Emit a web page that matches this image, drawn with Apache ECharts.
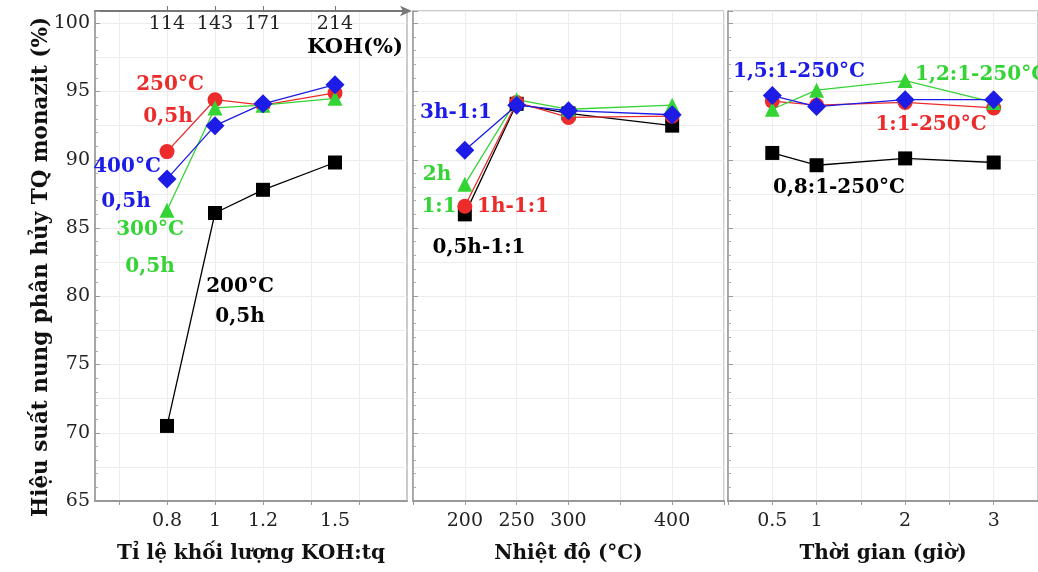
<!DOCTYPE html>
<html>
<head>
<meta charset="utf-8">
<script src="https://cdn.jsdelivr.net/npm/echarts@6/dist/echarts.min.js"></script>
<style>
  html, body { margin: 0; padding: 0; background: #fff; }
  #chart { width: 1038px; height: 572px; }
</style>
</head>
<body>
<div id="chart"></div>
<script>
// trục x và nhãn
var ratioX = [0.8, 1, 1.2, 1.5];
var kohLabels = ['114', '143', '171', '214'];
var tempX = [200, 250, 300, 400];
var timeX = [0.5, 1, 2, 3];
var yLabels = [65, 70, 75, 80, 85, 90, 95, 100];
var ratioGrid = [0.6, 0.8, 1, 1.2, 1.4, 1.6];

// tỉ lệ KOH:tq
var ratio200 = [70.5, 86.1, 87.8, 89.8];
var ratio250 = [90.6, 94.4, 94.0, 94.9];
var ratio300 = [86.3, 93.8, 94.0, 94.5];
var ratio400 = [88.6, 92.5, 94.1, 95.5];

// nhiệt độ
var temp05h = [86.0, 94.1, 93.4, 92.5];
var temp1h = [86.6, 94.2, 93.1, 93.2];
var temp2h = [88.2, 94.4, 93.7, 94.0];
var temp3h = [90.7, 94.0, 93.6, 93.3];

// thời gian
var time08 = [90.5, 89.6, 90.1, 89.8];
var time10 = [94.3, 94.0, 94.2, 93.8];
var time12 = [93.7, 95.1, 95.8, 94.2];
var time15 = [94.7, 93.9, 94.4, 94.4];

var FONT = 'DejaVu Serif';
var RED = '#ec2b2b', GREEN = '#35d435', BLUE = '#1c1ce6', BLACK = '#000';

function pts(xs, ys) {
    return xs.map(function (x, i) { return [x, ys[i]]; });
}

function line(name, xi, xs, ys, color, symbol, size) {
    return {
        name: name,
        type: 'line',
        xAxisIndex: xi,
        yAxisIndex: xi,
        data: pts(xs, ys),
        symbol: symbol,
        symbolSize: size,
        lineStyle: { color: color, width: 1.3 },
        itemStyle: { color: color },
        z: 3
    };
}

function bottomAxis(gi, min, max, labelVals, name, extra) {
    var ax = {
        type: 'value',
        gridIndex: gi,
        position: 'bottom',
        min: min,
        max: max,
        axisLine: { show: true, lineStyle: { color: '#999', width: 2 } },
        axisTick: { show: true, length: 4, lineStyle: { color: '#999' } },
        axisLabel: { customValues: labelVals, margin: 11, fontFamily: FONT, fontSize: 19, color: '#222' },
        splitLine: { show: true, lineStyle: { color: '#ececec', width: 1 } },
        name: name,
        nameLocation: 'middle',
        nameGap: 43,
        nameTextStyle: { fontFamily: FONT, fontWeight: 'bold', fontSize: 20, color: '#111' }
    };
    for (var k in extra) {
        if (k === 'axisTick') { ax.axisTick.customValues = extra[k]; }
        else { ax[k] = extra[k]; }
    }
    return ax;
}

function mainY(gi, withLabels) {
    return {
        type: 'value',
        gridIndex: gi,
        position: 'left',
        min: 65,
        max: 100.9,
        interval: 5,
        axisLine: { show: true, lineStyle: { color: '#999', width: 1.5 } },
        axisTick: { show: true, inside: true, length: 5, lineStyle: { color: '#999' } },
        minorTick: { show: true, splitNumber: 5, length: 3, lineStyle: { color: '#aaa' } },
        axisLabel: { show: withLabels, customValues: yLabels, margin: 5, fontFamily: FONT, fontSize: 19, color: '#222' },
        splitLine: { show: false }
    };
}

function gridY(gi) {
    return {
        type: 'value',
        gridIndex: gi,
        position: 'left',
        min: 65,
        max: 100.9,
        interval: 2.5,
        axisLine: { show: false },
        axisTick: { show: false },
        axisLabel: { show: false },
        splitLine: { show: true, lineStyle: { color: '#ececec', width: 1 } }
    };
}

function note(text, x, y, color, align, size) {
    return {
        type: 'text',
        x: x,
        y: y,
        z: 10,
        style: {
            text: text,
            fill: color,
            font: 'bold ' + (size || 20) + 'px "' + FONT + '"',
            textAlign: align || 'center',
            textVerticalAlign: 'middle'
        }
    };
}

var myChart = echarts.init(document.getElementById('chart'));

var option = {
    animation: false,
    backgroundColor: '#fff',
    grid: [
        { left: 95, top: 11, width: 312, height: 490, show: true, borderColor: '#999', borderWidth: 1 },
        { left: 413, top: 11, width: 311, height: 490, show: true, borderColor: '#999', borderWidth: 1 },
        { left: 728, top: 11, width: 315, height: 490, show: true, borderColor: '#999', borderWidth: 1 }
    ],
    xAxis: [
        bottomAxis(0, 0.5, 1.8, ratioX, 'Tỉ lệ khối lượng KOH:tq', { axisTick: ratioGrid }),
        bottomAxis(1, 150, 450, tempX, 'Nhiệt độ (°C)', { interval: 50 }),
        bottomAxis(2, 0, 3.5, timeX, 'Thời gian (giờ)', { interval: 0.5 }),
        {
            type: 'value',
            gridIndex: 0,
            position: 'top',
            min: 0.5,
            max: 1.8,
            axisLine: {
                show: true,
                symbol: ['none', 'arrow'],
                symbolSize: [8, 12],
                symbolOffset: [0, 5],
                lineStyle: { color: '#777', width: 2 }
            },
            axisTick: { show: true, customValues: ratioX, length: 5, lineStyle: { color: '#777' } },
            axisLabel: {
                customValues: ratioX,
                inside: true,
                margin: 4,
                fontFamily: FONT,
                fontSize: 19,
                color: '#222',
                formatter: function (v) { return kohLabels[ratioX.indexOf(v)]; }
            },
            splitLine: { show: false }
        }
    ],
    yAxis: [
        mainY(0, true), mainY(1, false), mainY(2, false),
        gridY(0), gridY(1), gridY(2)
    ],
    series: [
        line('200°C', 0, ratioX, ratio200, BLACK, 'rect', 14),
        line('250°C', 0, ratioX, ratio250, RED, 'circle', 15),
        line('300°C', 0, ratioX, ratio300, GREEN, 'triangle', 15),
        line('400°C', 0, ratioX, ratio400, BLUE, 'diamond', 19),

        line('0,5h-1:1', 1, tempX, temp05h, BLACK, 'rect', 14),
        line('1h-1:1', 1, tempX, temp1h, RED, 'circle', 15),
        line('2h-1:1', 1, tempX, temp2h, GREEN, 'triangle', 15),
        line('3h-1:1', 1, tempX, temp3h, BLUE, 'diamond', 19),

        line('0,8:1-250°C', 2, timeX, time08, BLACK, 'rect', 14),
        line('1:1-250°C', 2, timeX, time10, RED, 'circle', 15),
        line('1,2:1-250°C', 2, timeX, time12, GREEN, 'triangle', 15),
        line('1,5:1-250°C', 2, timeX, time15, BLUE, 'diamond', 19)
    ],
    graphic: [
        {
            type: 'text',
            x: 41,
            y: 267,
            rotation: Math.PI / 2,
            z: 10,
            style: {
                text: 'Hiệu suất nung phân hủy TQ monazit (%)',
                fill: '#111',
                font: 'bold 21.5px "' + FONT + '"',
                textAlign: 'center',
                textVerticalAlign: 'middle'
            }
        },
        note('KOH(%)', 355, 48, BLACK, 'center', 21),
        note('250°C', 170, 85, RED),
        note('0,5h', 168, 117, RED),
        note('400°C', 127, 167, BLUE),
        note('0,5h', 126, 202, BLUE),
        note('300°C', 150, 230, GREEN),
        note('0,5h', 150, 267, GREEN),
        note('200°C', 240, 287, BLACK),
        note('0,5h', 240, 317, BLACK),

        note('3h-1:1', 456, 113, BLUE),
        note('2h', 437, 175, GREEN),
        note('1:1', 439, 207, GREEN),
        note('1h-1:1', 513, 207, RED),
        note('0,5h-1:1', 479, 248, BLACK),

        note('1,5:1-250°C', 799, 72, BLUE),
        note('1,2:1-250°C', 915, 75, GREEN, 'left'),
        note('1:1-250°C', 931, 125, RED),
        note('0,8:1-250°C', 839, 188, BLACK)
    ]
};

myChart.setOption(option);
</script>
</body>
</html>
